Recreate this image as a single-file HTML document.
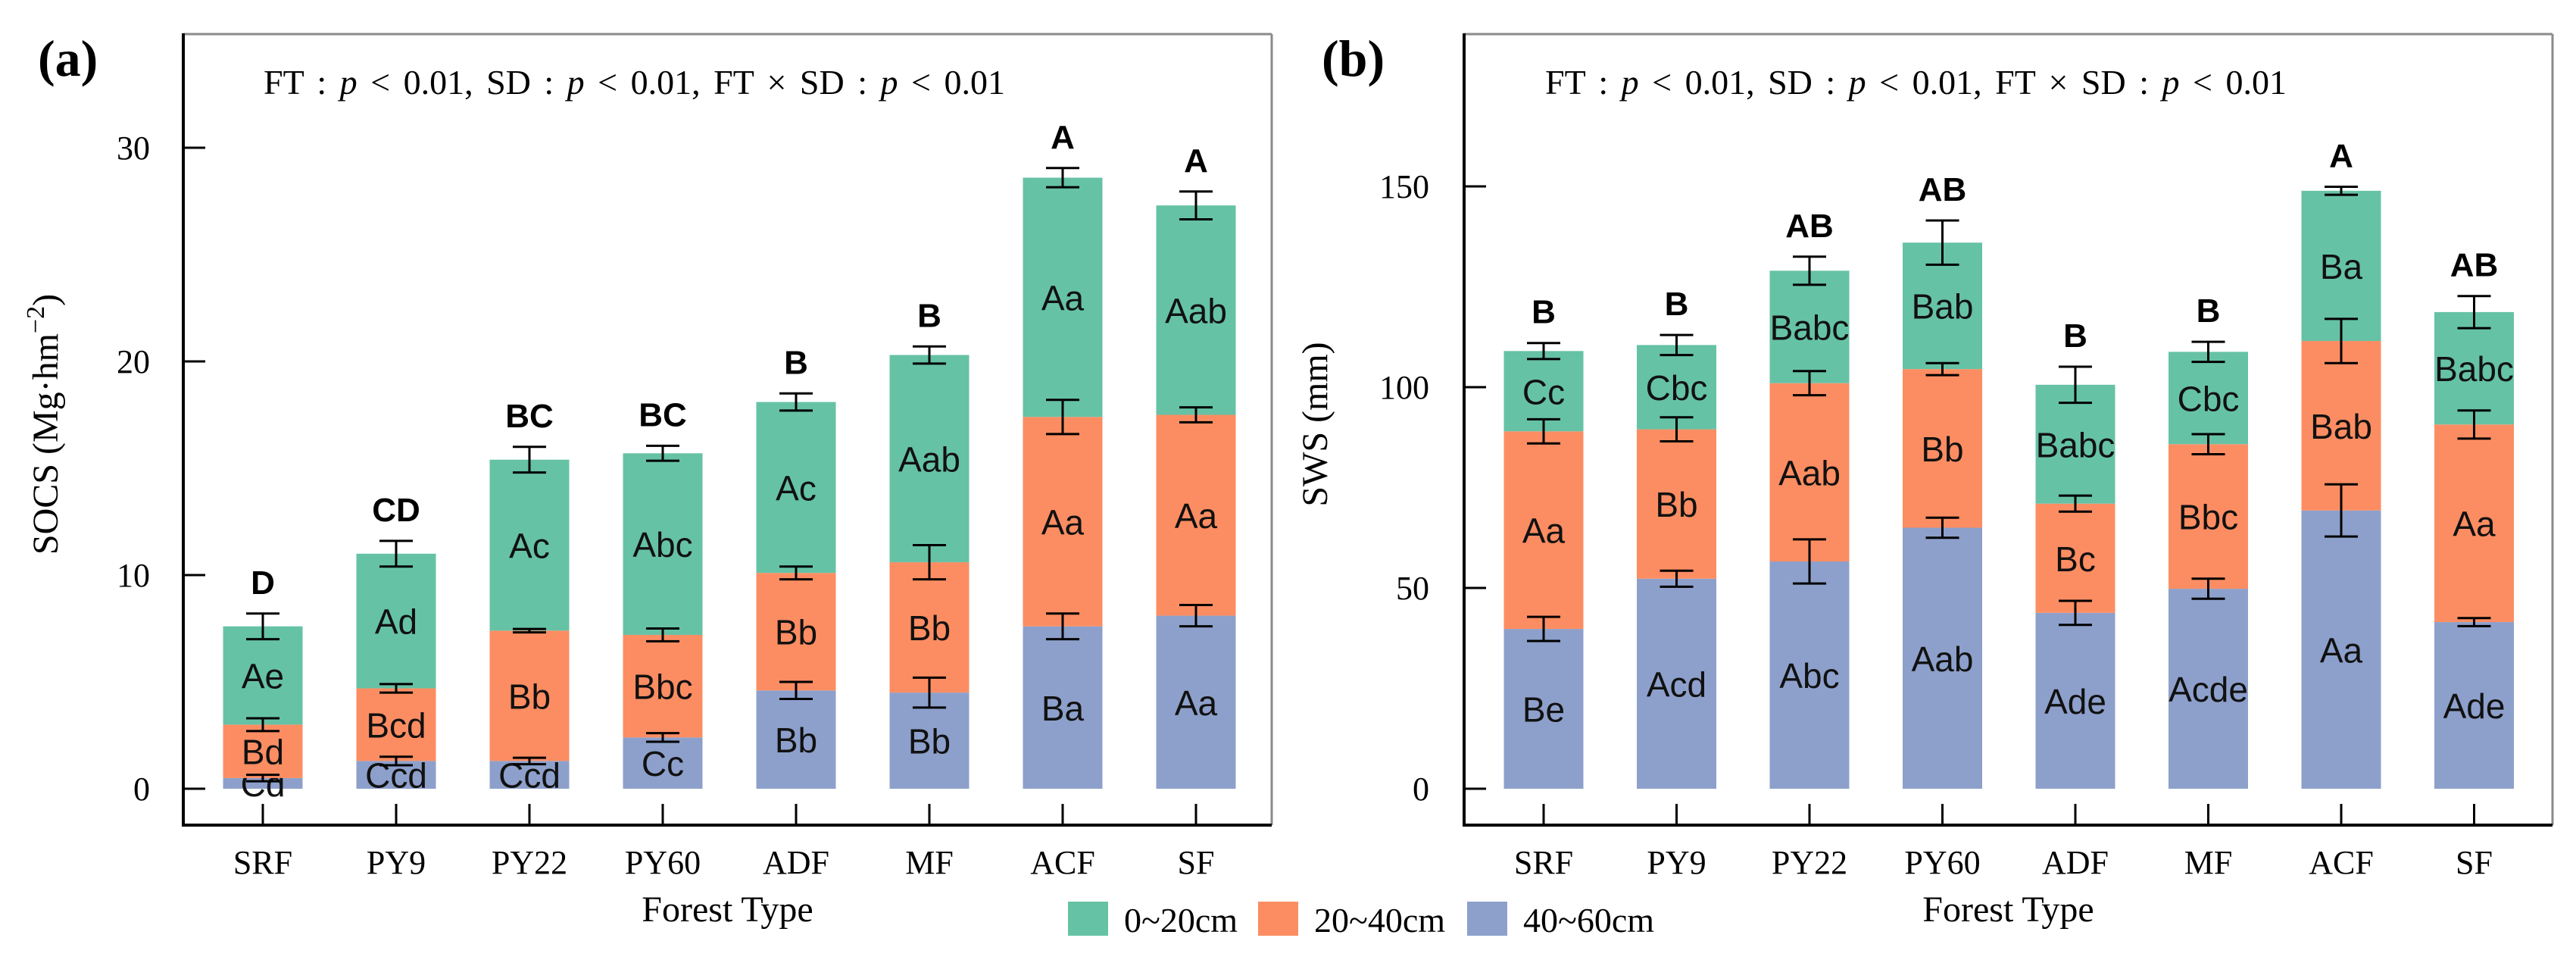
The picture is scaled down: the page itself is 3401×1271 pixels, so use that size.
<!DOCTYPE html>
<html><head><meta charset="utf-8"><style>
html,body{margin:0;padding:0;background:#fff;}
svg{display:block;}
.serif{font-family:"Liberation Serif",serif;}
.sans{font-family:"Liberation Sans",sans-serif;}
</style></head><body>
<svg id="fig" width="3401" height="1271" viewBox="0 0 3401 1271" xmlns="http://www.w3.org/2000/svg">
<rect width="3401" height="1271" fill="#fff"/>
<g id="panelA"></g>
<g id="panelB"></g>
<g id="legend"></g>
</svg>
<script>
const categories = ["SRF","PY9","PY22","PY60","ADF","MF","ACF","SF"];
// Panel (a) SOCS cumulative tops per layer
const socsBlue   = [0.5, 1.3, 1.3, 2.4, 4.6, 4.5, 7.6, 8.1];
const socsOrange = [3.0, 4.7, 7.4, 7.2, 10.1, 10.6, 17.4, 17.5];
const socsGreen  = [7.6, 11.0, 15.4, 15.7, 18.1, 20.3, 28.6, 27.3];
const socsErrBlue   = [0.15, 0.2, 0.15, 0.2, 0.4, 0.7, 0.6, 0.5];
const socsErrOrange = [0.3, 0.2, 0.08, 0.3, 0.3, 0.8, 0.8, 0.35];
const socsErrGreen  = [0.6, 0.6, 0.6, 0.35, 0.4, 0.4, 0.45, 0.65];
const socsLabBlue   = ["Cd","Ccd","Ccd","Cc","Bb","Bb","Ba","Aa"];
const socsLabOrange = ["Bd","Bcd","Bb","Bbc","Bb","Bb","Aa","Aa"];
const socsLabGreen  = ["Ae","Ad","Ac","Abc","Ac","Aab","Aa","Aab"];
const socsSig = ["D","CD","BC","BC","B","B","A","A"];
const socsTicks = [0,10,20,30];
// Panel (b) SWS cumulative tops per layer
const swsBlue   = [39.8, 52.3, 56.6, 65.0, 43.8, 49.8, 69.3, 41.5];
const swsOrange = [89.0, 89.5, 101.0, 104.5, 71.0, 85.8, 111.5, 90.7];
const swsGreen  = [109.0, 110.5, 129.0, 136.0, 100.6, 108.8, 148.9, 118.7];
const swsErrBlue   = [3, 2, 5.5, 2.5, 3, 2.5, 6.5, 1];
const swsErrOrange = [3, 3, 3, 1.5, 2, 2.5, 5.5, 3.5];
const swsErrGreen  = [2, 2.5, 3.5, 5.5, 4.5, 2.5, 1, 4];
const swsLabBlue   = ["Be","Acd","Abc","Aab","Ade","Acde","Aa","Ade"];
const swsLabOrange = ["Aa","Bb","Aab","Bb","Bc","Bbc","Bab","Aa"];
const swsLabGreen  = ["Cc","Cbc","Babc","Bab","Babc","Cbc","Ba","Babc"];
const swsSig = ["B","B","AB","AB","B","B","A","AB"];
const swsTicks = [0,50,100,150];

const NS="http://www.w3.org/2000/svg";
const GREEN="#66c2a5", ORANGE="#fc8d62", BLUE="#8da0cb";
function mk(parent, tag, attrs, text){
  const e=document.createElementNS(NS,tag);
  for(const k in attrs) e.setAttribute(k,attrs[k]);
  if(text!==undefined) e.textContent=text;
  parent.appendChild(e); return e;
}

function drawPanel(g, o){
  const left=o.left, right=o.right, top=45, bottom=1089, zeroY=1041;
  const yScale = v => zeroY - v*o.pxPerUnit;
  const xScale = i => o.x0 + i*o.step;
  const bw=105;
  let e;
  e=mk(g,'line',{x1:left,y1:top,x2:right,y2:top,stroke:'#8a8a8a','stroke-width':3});
   
  e=mk(g,'line',{x1:right,y1:top,x2:right,y2:bottom,stroke:'#8a8a8a','stroke-width':3});
   
  e=mk(g,'line',{x1:left,y1:top-1,x2:left,y2:bottom+2,stroke:'#000','stroke-width':4});
   
  e=mk(g,'line',{x1:left-2,y1:bottom,x2:right,y2:bottom,stroke:'#000','stroke-width':4});
   
  o.ticks.forEach(t=>{
    const y=yScale(t);
    let l=mk(g,'line',{x1:left,y1:y,x2:left+29,y2:y,stroke:'#000','stroke-width':3});
     
    let tx=mk(g,'text',{x:o.tickLabelX,y:y+15,'text-anchor':'end','font-size':44,class:'serif'},String(t));
     
  });
  categories.forEach((c,i)=>{
    const cx=xScale(i);
    const segs=[[0,o.blue[i],BLUE,o.labBlue[i],o.errBlue[i]],[o.blue[i],o.orange[i],ORANGE,o.labOrange[i],o.errOrange[i]],[o.orange[i],o.green[i],GREEN,o.labGreen[i],o.errGreen[i]]];
    const names=['bar-40-60cm','bar-20-40cm','bar-0-20cm'];
    segs.forEach((s,k)=>{
      const y1=yScale(s[1]), y0=yScale(s[0]);
      let r=mk(g,'rect',{x:cx-bw/2,y:y1,width:bw,height:y0-y1,fill:s[2]});
       
      let t=mk(g,'text',{x:cx,y:(y0+y1)/2+17,'text-anchor':'middle','font-size':46,class:'sans',fill:'#111'},s[3]);
       
    });
    segs.forEach((s)=>{
      const yt=yScale(s[1]+s[4]), yb=yScale(s[1]-s[4]);
      let eb=mk(g,'path',{d:`M${cx-22},${yt}H${cx+22}M${cx},${yt}V${yb}M${cx-22},${yb}H${cx+22}`,stroke:'#000','stroke-width':3,fill:'none'});
       
    });
    const topErr=yScale(o.green[i]+o.errGreen[i]);
    let sg=mk(g,'text',{x:cx,y:topErr-26,'text-anchor':'middle','font-size':44,'font-weight':'bold',class:'sans'},o.sig[i]);
     
    let tk=mk(g,'line',{x1:cx,y1:bottom,x2:cx,y2:bottom-28,stroke:'#000','stroke-width':3});
     
    let xl=mk(g,'text',{x:cx,y:1153,'text-anchor':'middle','font-size':44,class:'serif'},c);
     
  });
  let xt=mk(g,'text',{x:(left+right)/2,y:1216,'text-anchor':'middle','font-size':48,class:'serif'},'Forest Type');
   
  let yt=mk(g,'text',{x:0,y:0,'text-anchor':'middle','font-size':48,class:'serif',transform:`translate(${o.yTitleX},560) rotate(-90)`});
   
  yt.innerHTML=o.yTitle;
  let pl=mk(g,'text',{x:o.panelLabelX,y:100,'font-size':68,'font-weight':'bold',class:'serif'},o.panelLabel);
   
  let st=mk(g,'text',{x:o.statX,y:124,'font-size':46,'word-spacing':6,class:'serif'});
   
  st.innerHTML='FT : <tspan font-style="italic">p</tspan> &lt; 0.01, SD : <tspan font-style="italic">p</tspan> &lt; 0.01, FT × SD : <tspan font-style="italic">p</tspan> &lt; 0.01';
}

drawPanel(document.getElementById('panelA'),{
  left:242,right:1679,pxPerUnit:28.2,x0:347,step:176,ticks:socsTicks,tickLabelX:198,
  blue:socsBlue,orange:socsOrange,green:socsGreen,errBlue:socsErrBlue,errOrange:socsErrOrange,errGreen:socsErrGreen,
  labBlue:socsLabBlue,labOrange:socsLabOrange,labGreen:socsLabGreen,sig:socsSig,
  yTitleX:76,yTitle:'SOCS (Mg·hm<tspan dy="-18" font-size="34">−2</tspan><tspan dy="18">)</tspan>',
  panelLabel:'(a)',panelLabelX:50,statX:348
});
drawPanel(document.getElementById('panelB'),{
  left:1933,right:3370,pxPerUnit:5.3,x0:2038,step:175.5,ticks:swsTicks,tickLabelX:1887,
  blue:swsBlue,orange:swsOrange,green:swsGreen,errBlue:swsErrBlue,errOrange:swsErrOrange,errGreen:swsErrGreen,
  labBlue:swsLabBlue,labOrange:swsLabOrange,labGreen:swsLabGreen,sig:swsSig,
  yTitleX:1752,yTitle:'SWS (mm)',
  panelLabel:'(b)',panelLabelX:1745,statX:2040
});

const legendLabels=["0~20cm","20~40cm","40~60cm"];
const legendColors=[GREEN,ORANGE,BLUE];
const legendX=[1410,1661,1937];
const lg=document.getElementById('legend');
legendLabels.forEach((l,i)=>{
  let r=mk(lg,'rect',{x:legendX[i],y:1190,width:53,height:45,fill:legendColors[i]});
   
  let t=mk(lg,'text',{x:legendX[i]+74,y:1230,'font-size':46,class:'serif'},l);
   
});
</script>
</body></html>
